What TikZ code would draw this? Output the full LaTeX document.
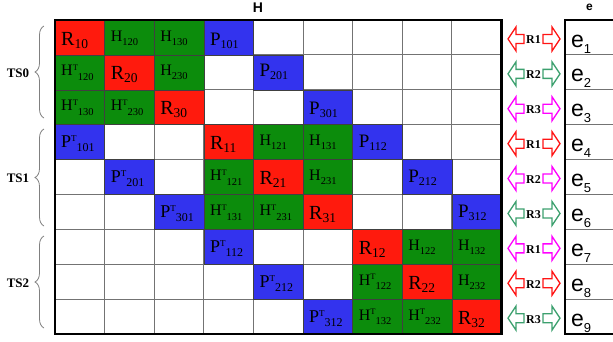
\documentclass[tikz,border=0pt]{standalone}
\usepackage{fontspec}
\setmainfont{Liberation Serif}
\newfontfamily\arial{Liberation Sans}
\usetikzlibrary{decorations.pathreplacing}
\definecolor{cred}{RGB}{255,26,13}
\definecolor{cgreen}{RGB}{12,140,12}
\definecolor{cblue}{RGB}{51,51,238}
\definecolor{ared}{RGB}{255,20,20}
\definecolor{agreen}{RGB}{60,160,110}
\definecolor{amag}{RGB}{255,0,255}
\newcommand\fs[1]{\fontsize{#1}{#1}\selectfont}
\newcommand\Rl[1]{{\fs{20}R}\raisebox{-3pt}{\fs{13.5}#1}}
\newcommand\Pl[1]{{\fs{19}P}\raisebox{-3pt}{\fs{12}#1}}
\newcommand\PT[1]{{\fs{18}P}\raisebox{6pt}{\fs{9}T}\raisebox{-4pt}{\fs{12}#1}}
\newcommand\Hl[1]{{\fs{16}H}\raisebox{-4pt}{\fs{10.5}#1}}
\newcommand\HT[1]{{\fs{16}H}\raisebox{5.5pt}{\fs{8.5}T}\raisebox{-4.5pt}{\fs{10.5}#1}}
\newcommand\el[1]{{\arial\fs{23}e}\raisebox{-6pt}{\arial\fs{13}#1}}
\newcommand\cw{49.6}
\newcommand\ch{34.9}
\tikzset{
  lbl/.style={anchor=base west, inner sep=0pt, text=black},
  gridline/.style={draw=black!55, line width=0.9pt},
  cellframe/.style={draw=black!75, line width=0.6pt},
  frame/.style={draw=black, line width=2.2pt},
  dblarr/.style={line width=1.3pt, fill=white},
  rlab/.style={font=\fs{12}\bfseries, inner sep=0pt},
  tslab/.style={font=\fs{13}\bfseries, inner sep=0pt},
  bracestyle/.style={draw=black!50, line width=0.8pt, decorate, decoration={brace, amplitude=9pt}},
  headlab/.style={font=\arial\bfseries, inner sep=0pt},
}
% row, col, fill, label
\newcommand\mcell[5]{%
  \path[fill=#3, cellframe] ({55+(#2-1)*\cw},{20+(#1-1)*\ch}) rectangle ++(\cw,\ch);
  \node[lbl] (c#1#2) at ({55+(#2-1)*\cw+6},{20+(#1-1)*\ch+#5}) {#4};
}
% row, colour, label
\newcommand\darrow[3]{%
  \pgfmathsetmacro\cy{20+(#1-1)*\ch+\ch/2+1.5}
  \draw[dblarr, draw=#2] (508,\cy) -- (516,\cy-12) -- (516,\cy-4.5) -- (524,\cy-4.5) -- (524,\cy+4.5) -- (516,\cy+4.5) -- (516,\cy+12) -- cycle;
  \draw[dblarr, draw=#2] (560,\cy) -- (552,\cy-12) -- (552,\cy-4.5) -- (543,\cy-4.5) -- (543,\cy+4.5) -- (552,\cy+4.5) -- (552,\cy+12) -- cycle;
  \node[rlab] (r#1) at (533.5,\cy+1) {#3};
  \node[lbl] (e#1) at (571,{20+(#1-1)*\ch+27}) {\el{#1}};
}
\begin{document}
\begin{tikzpicture}[x=1pt,y=-1pt]
\useasboundingbox (0,0) rectangle (613,341);
% grid
\foreach \k in {1,...,8} {
  \draw[gridline] ({55+\k*\cw},20) -- ({55+\k*\cw},334);
  \draw[gridline] (55,{20+\k*\ch}) -- ({55+9*\cw},{20+\k*\ch});
}
% cells
\mcell{1}{1}{cred}{\Rl{10}}{25}
\mcell{1}{2}{cgreen}{\Hl{120}}{21}
\mcell{1}{3}{cgreen}{\Hl{130}}{21}
\mcell{1}{4}{cblue}{\Pl{101}}{25}
\mcell{2}{1}{cgreen}{\HT{120}}{21}
\mcell{2}{2}{cred}{\Rl{20}}{25}
\mcell{2}{3}{cgreen}{\Hl{230}}{21}
\mcell{2}{5}{cblue}{\Pl{201}}{22}
\mcell{3}{1}{cgreen}{\HT{130}}{21}
\mcell{3}{2}{cgreen}{\HT{230}}{21}
\mcell{3}{3}{cred}{\Rl{30}}{25}
\mcell{3}{6}{cblue}{\Pl{301}}{25}
\mcell{4}{1}{cblue}{\PT{101}}{23}
\mcell{4}{4}{cred}{\Rl{11}}{25}
\mcell{4}{5}{cgreen}{\Hl{121}}{21}
\mcell{4}{6}{cgreen}{\Hl{131}}{21}
\mcell{4}{7}{cblue}{\Pl{112}}{23}
\mcell{5}{2}{cblue}{\PT{201}}{23}
\mcell{5}{4}{cgreen}{\HT{121}}{21}
\mcell{5}{5}{cred}{\Rl{21}}{25}
\mcell{5}{6}{cgreen}{\Hl{231}}{21}
\mcell{5}{8}{cblue}{\Pl{212}}{23}
\mcell{6}{3}{cblue}{\PT{301}}{23}
\mcell{6}{4}{cgreen}{\HT{131}}{21}
\mcell{6}{5}{cgreen}{\HT{231}}{21}
\mcell{6}{6}{cred}{\Rl{31}}{25}
\mcell{6}{9}{cblue}{\Pl{312}}{23}
\mcell{7}{4}{cblue}{\PT{112}}{23}
\mcell{7}{7}{cred}{\Rl{12}}{25}
\mcell{7}{8}{cgreen}{\Hl{122}}{21}
\mcell{7}{9}{cgreen}{\Hl{132}}{21}
\mcell{8}{5}{cblue}{\PT{212}}{23}
\mcell{8}{7}{cgreen}{\HT{122}}{21}
\mcell{8}{8}{cred}{\Rl{22}}{25}
\mcell{8}{9}{cgreen}{\Hl{232}}{21}
\mcell{9}{6}{cblue}{\PT{312}}{23}
\mcell{9}{7}{cgreen}{\HT{132}}{21}
\mcell{9}{8}{cgreen}{\HT{232}}{21}
\mcell{9}{9}{cred}{\Rl{32}}{25}
% frame
\draw[frame] (55,20) rectangle ({55+9*\cw},334);
% e column
\foreach \k in {1,...,8} {
  \draw[gridline] (565,{20+\k*\ch}) -- (613,{20+\k*\ch});
}
\draw[frame] (614,20) -- (565,20) -- (565,334) -- (614,334);
% arrows
\darrow{1}{ared}{R1}
\darrow{2}{agreen}{R2}
\darrow{3}{amag}{R3}
\darrow{4}{ared}{R1}
\darrow{5}{amag}{R2}
\darrow{6}{agreen}{R3}
\darrow{7}{amag}{R1}
\darrow{8}{ared}{R2}
\darrow{9}{agreen}{R3}
% headers
\node[headlab, font=\arial\bfseries\fs{14}] (hH) at (258,8) {H};
\node[headlab, font=\arial\bfseries\fs{12}] (he) at (589.5,7) {e};
% braces
\draw[bracestyle] (44,118) -- (44,26);
\draw[bracestyle] (44,226) -- (44,129);
\draw[bracestyle] (44,328) -- (44,236);
\node[tslab] (ts0) at (18,73) {TS0};
\node[tslab] (ts1) at (18,178) {TS1};
\node[tslab] (ts2) at (18,283) {TS2};
\end{tikzpicture}
\end{document}
